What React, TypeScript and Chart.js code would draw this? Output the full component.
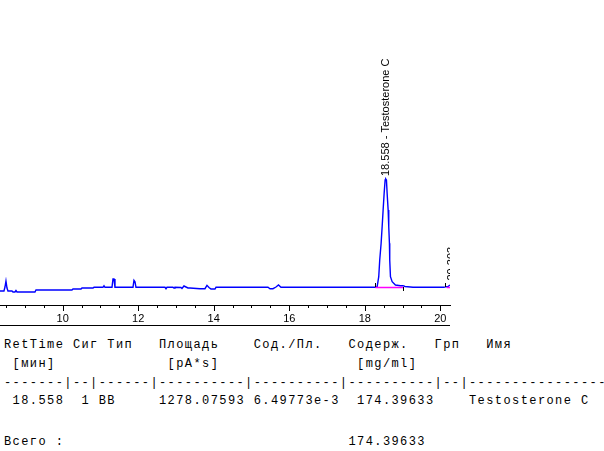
import React, { useEffect, useRef } from 'react';
import { Chart, registerables } from 'chart.js';

Chart.register(...registerables);

// ---- Signal trace (FID, pA) vs retention time (min) ----
const retentionTimes = [
  8.340, 8.445, 8.472, 8.498, 8.525, 8.551, 8.657, 8.684, 8.737, 8.763, 8.790,
  9.266, 9.293, 10.246, 10.273, 10.485, 10.511, 10.802, 10.829, 11.067, 11.094,
  11.120, 11.306, 11.332, 11.359, 11.385, 11.862, 11.888, 11.915, 11.941, 12.709,
  12.736, 12.762, 12.921, 12.948, 12.974, 13.133, 13.159, 13.212, 13.265, 13.318,
  13.371, 13.636, 13.768, 13.821, 13.874, 13.927, 14.033, 14.060, 15.437, 15.490,
  15.569, 15.649, 15.715, 15.781, 18.283, 18.328, 18.370, 18.396, 18.433, 18.460,
  18.486, 18.513, 18.539, 18.555, 18.574, 18.592, 18.619, 18.635, 18.653, 18.661,
  18.680, 18.725, 18.812, 18.945, 19.012, 19.065, 19.277, 20.098, 20.151, 20.204,
  20.257,
];
const signalPA = [
  2.8, 2.8, 3.6, 4.8, 3.4, 2.8, 2.8, 2.6, 2.6, 2.9, 2.6,
  2.6, 3.0, 3.0, 3.2, 3.2, 3.4, 3.4, 3.54, 3.54, 3.86,
  3.54, 3.54, 5.2, 5.2, 3.54, 3.54, 4.94, 4.66, 3.54, 3.54,
  3.26, 3.54, 3.54, 3.4, 3.54, 3.5, 3.3, 3.8, 3.6, 3.4,
  3.4, 3.26, 3.26, 3.94, 3.5, 3.2, 3.2, 3.54, 3.54, 3.26,
  3.26, 3.6, 4.0, 3.54, 3.54, 3.66, 5.66, 9.0, 12.34, 15.66,
  19.0, 22.34, 25.0, 25.2, 25.0, 22.34, 19.0, 15.66, 12.34, 9.0,
  5.66, 4.66, 4.0, 3.86, 3.86, 3.7, 3.54, 3.54, 3.66, 3.7,
  4.0,
];

// ---- Integration baselines (magenta) ----
const baselineTimes = [18.283, 19.012, null, 20.17, 20.257];
const baselineValues = [3.5, 3.5, null, 3.5, 3.5];

// ---- Peak events ----
const peakStartTimes = [18.283, 20.13];
const peakEndTimes = [19.012];
const eventLevel = 3.54;
const peakLabelTimes = [18.558, 20.303];
const peakLabelApex = [25.2, 4.3];
const peakLabelTexts = ['18.558 - Testosterone C', '20.303'];

// ---- Axis ----
const xMin = 8.34;
const xMax = 20.257;
const yMin = 0;
const yMax = 60;
const xTickValues = [10, 12, 14, 16, 18, 20];
const minorStep = 0.5;
const majorStep = 2;

// ---- Report table ----
const tableLines = [
  'RetTime Сиг Тип   Площадь    Сод./Пл.   Содерж.   Грп   Имя',
  ' [мин]             [pA*s]                [mg/ml]',
  '-------|--|------|----------|----------|----------|--|------------------',
  ' 18.558  1 BB     1278.07593 6.49773e-3  174.39633    Testosterone C',
  '',
  'Всего :                                 174.39633',
];
const tableBaselines = [348.3, 366.7, 386.5, 404.2, 424.5, 444.7];

const chromPlugin = {
  id: 'chromDecor',
  afterDatasetsDraw(chart: any) {
    const { ctx, chartArea, scales } = chart;
    const x = scales.x;
    const y = scales.y;
    ctx.save();
    ctx.strokeStyle = '#000';
    ctx.lineWidth = 1;
    const lvl = Math.round(y.getPixelForValue(eventLevel));
    peakStartTimes.forEach((t) => {
      const px = Math.round(x.getPixelForValue(t)) + 0.5;
      ctx.beginPath();
      ctx.moveTo(px, lvl);
      ctx.lineTo(px, lvl - 4);
      ctx.stroke();
    });
    peakEndTimes.forEach((t) => {
      const px = Math.round(x.getPixelForValue(t)) + 0.5;
      ctx.beginPath();
      ctx.moveTo(px, lvl);
      ctx.lineTo(px, lvl + 4);
      ctx.stroke();
    });
    ctx.beginPath();
    ctx.rect(chartArea.left, 0, chartArea.right - chartArea.left, chart.height);
    ctx.clip();
    ctx.font = '11px "Liberation Sans", Arial, sans-serif';
    ctx.fillStyle = '#000';
    ctx.textAlign = 'left';
    ctx.textBaseline = 'middle';
    peakLabelTimes.forEach((t, i) => {
      const px = x.getPixelForValue(t);
      const py = y.getPixelForValue(peakLabelApex[i]) - 3;
      ctx.save();
      ctx.translate(px, py);
      ctx.rotate(-Math.PI / 2);
      ctx.fillText(peakLabelTexts[i], 0, 0);
      ctx.restore();
    });
    ctx.restore();
  },
  afterDraw(chart: any) {
    const { ctx, chartArea, scales } = chart;
    const x = scales.x;
    ctx.save();
    ctx.strokeStyle = '#000';
    ctx.lineWidth = 1;
    const b = Math.round(chartArea.bottom);
    const start = Math.ceil(x.min / minorStep) * minorStep;
    for (let v = start; v <= x.max + 1e-9; v += minorStep) {
      const major = Math.abs(v / majorStep - Math.round(v / majorStep)) < 1e-6;
      const px = Math.round(x.getPixelForValue(v)) + 0.5;
      ctx.beginPath();
      ctx.moveTo(px, b);
      ctx.lineTo(px, b + (major ? 6 : 3));
      ctx.stroke();
    }
    const yb = b + 20 + 0.5;
    ctx.beginPath();
    ctx.moveTo(chartArea.left, yb);
    ctx.lineTo(chartArea.right, yb);
    ctx.stroke();
    ctx.restore();
  },
};

export default function App() {
  const canvasRef = useRef<HTMLCanvasElement | null>(null);

  useEffect(() => {
    const canvas = canvasRef.current;
    if (!canvas) return;
    const signalPoints = retentionTimes.map((t, i) => ({ x: t, y: signalPA[i] }));
    const basePoints = baselineTimes.map((t, i) =>
      t === null ? { x: NaN, y: null } : { x: t, y: baselineValues[i] }
    );
    const chart = new Chart(canvas, {
      type: 'line',
      data: {
        datasets: [
          {
            label: 'baseline',
            data: basePoints as any,
            borderColor: '#ff00ff',
            borderWidth: 1.6,
            pointRadius: 0,
            spanGaps: false,
            order: 0,
          },
          {
            label: 'FID1 A',
            data: signalPoints,
            borderColor: '#0000ff',
            borderWidth: 1.4,
            pointRadius: 0,
            tension: 0,
            order: 1,
          },
        ],
      },
      options: {
        animation: false,
        responsive: false,
        devicePixelRatio: 1,
        layout: { padding: { left: 0, right: 154, top: 5, bottom: 5 } },
        plugins: { legend: { display: false }, tooltip: { enabled: false } },
        scales: {
          x: {
            type: 'linear',
            min: xMin,
            max: xMax,
            afterBuildTicks: (s: any) => {
              s.ticks = xTickValues.map((v) => ({ value: v }));
            },
            afterFit: (s: any) => {
              s.height = 20;
            },
            grid: { display: true, drawOnChartArea: false, drawTicks: false, color: 'rgba(0,0,0,0)' },
            border: { display: true, color: '#000', width: 1 },
            ticks: {
              color: '#000',
              font: { family: '"Liberation Sans", Arial, sans-serif', size: 11 },
              padding: 7,
              maxRotation: 0,
              autoSkip: false,
              callback: (v: any) => String(v),
            },
          },
          y: { display: false, min: yMin, max: yMax },
        },
      },
      plugins: [chromPlugin],
    });
    return () => chart.destroy();
  }, []);

  return (
    <div style={{ position: 'absolute', left: 0, top: 0, width: 604, height: 451, background: '#fff', overflow: 'hidden' }}>
      <canvas ref={canvasRef} width={604} height={330} style={{ position: 'absolute', left: 0, top: 0 }} />
      {tableLines.map((line, i) => (
        <div
          key={i}
          style={{
            position: 'absolute',
            left: 4,
            top: tableBaselines[i] - 10.2,
            fontFamily: '"Liberation Mono", "Courier New", monospace',
            fontSize: 12,
            lineHeight: '14px',
            letterSpacing: '1.41px',
            whiteSpace: 'pre',
            color: '#000',
          }}
        >
          {line}
        </div>
      ))}
    </div>
  );
}
